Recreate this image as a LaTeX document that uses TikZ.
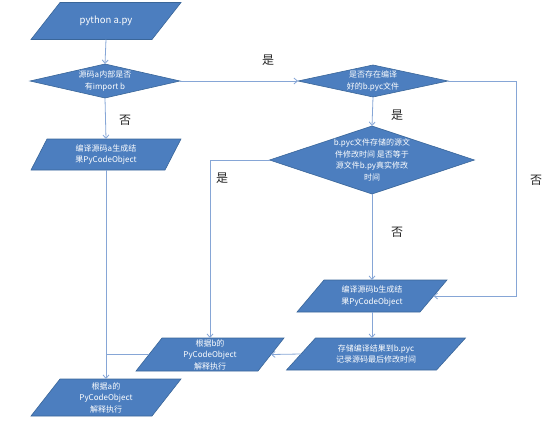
\documentclass[tikz,border=0pt]{standalone}
\usepackage{fontspec}
\setmainfont{Noto Sans CJK SC}
\usetikzlibrary{arrows.meta,backgrounds}
\definecolor{boxfill}{HTML}{4C7EBF}
\definecolor{boxline}{HTML}{3A6699}
\definecolor{wire}{HTML}{86A6D6}
\newcommand\drawpara[2]{%
  \filldraw[fill=boxfill,draw=boxline,line width=0.6pt]
    ([xshift=#2pt]#1.north west) -- ([xshift=#2pt]#1.north east)
    -- ([xshift=-#2pt]#1.south east) -- ([xshift=-#2pt]#1.south west) -- cycle;}
\newcommand\drawdia[1]{%
  \filldraw[fill=boxfill,draw=boxline,line width=0.6pt]
    (#1.north) -- (#1.east) -- (#1.south) -- (#1.west) -- cycle;}
\begin{document}
\begin{tikzpicture}[x=1pt,y=-1pt,
  box/.style={text=white,font=\fontsize{8}{11.5}\selectfont,align=center,
    inner sep=0pt,outer sep=0pt,minimum width=#1},
  wirearrow/.style={draw=wire,line width=0.8pt,-{Straight Barb[length=3.5pt,width=6pt]}},
  wireline/.style={draw=wire,line width=0.8pt},
  lab/.style={font=\fontsize{12}{12}\selectfont,text=black!85,inner sep=0pt}]
\useasboundingbox (0,0) rectangle (554,423);
% nodes
\node[box=121pt,minimum height=37pt,font=\fontsize{9.5}{11}\selectfont] (py) at (106,21) {python a.py};
\node[box=150pt,minimum height=34pt] (d1) at (105,81) {源码a内部是否\\有import b};
\node[box=134pt,minimum height=31pt] (pa) at (106,154.5) {编译源码a生成结\\果PyCodeObject};
\node[box=121pt,minimum height=37pt] (ra) at (106,397.5) {根据a的\\PyCodeObject\\解释执行};
\node[box=150pt,minimum height=32pt] (d2) at (373,81) {是否存在编译\\好的b.pyc文件};
\node[box=205pt,minimum height=68pt] (d3) at (372,160) {b.pyc文件存储的源文\\件修改时间 是否等于\\源文件b.py真实修改\\时间};
\node[box=123pt,minimum height=32pt] (pc) at (372,296) {编译源码b生成结\\果PyCodeObject};
\node[box=150pt,minimum height=32pt] (pd) at (376,354) {存储编译结果到b.pyc\\记录源码最后修改时间};
\node[box=122pt,minimum height=33pt] (pb) at (210,354.5) {根据b的\\PyCodeObject\\解释执行};
\coordinate (rr) at (516,0);
% shapes
\begin{scope}[on background layer]
  \drawpara{py}{14.5}
  \drawdia{d1}
  \drawpara{pa}{8}
  \drawpara{ra}{14.5}
  \drawdia{d2}
  \drawdia{d3}
  \drawpara{pc}{13.5}
  \drawpara{pd}{14.5}
  \drawpara{pb}{13}
\end{scope}
% connectors
\draw[wirearrow] (py.south) -- (d1.north);
\draw[wirearrow] (d1.south) -- (pa.north);
\draw[wirearrow] (d1.east) -- (d2.west);
\draw[wirearrow] (d2.south) -- (d3.north);
\draw[wirearrow] (d3.south) -- (pc.north);
\draw[wirearrow] (d2.east) -- (d2.east -| rr) |- (pc.east);
\draw[wirearrow] (d3.west) -| (pb.north);
\draw[wirearrow] (pa.south) -- (ra.north);
\draw[wireline] (pb.west) -- (pb.west -| pa.south);
\draw[wirearrow] (pc.south) -- (pc.south |- pd.north);
\draw[wirearrow] (pd.west) -- (pb.east);
% labels
\node[lab] (l1) at (125,120) {否};
\node[lab] (l2) at (268,60) {是};
\node[lab] (l3) at (397,115) {是};
\node[lab] (l4) at (397,232) {否};
\node[lab] (l5) at (536,180) {否};
\node[lab] (l6) at (222,178) {是};
\end{tikzpicture}
\end{document}
